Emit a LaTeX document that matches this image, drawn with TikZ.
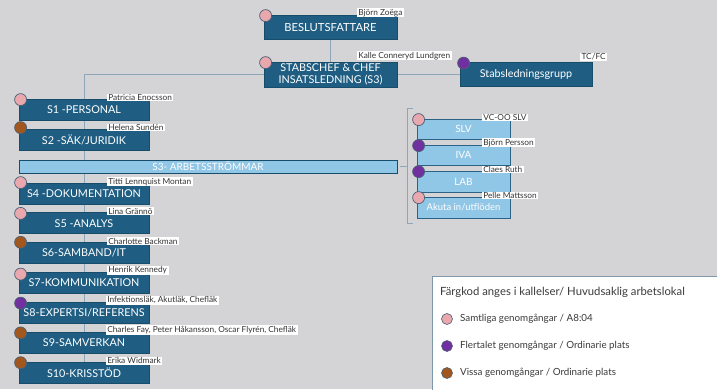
\documentclass[tikz,border=0pt]{standalone}
\usepackage{fontspec}
\setmainfont{Lato}
\usetikzlibrary{backgrounds}
\definecolor{bgc}{HTML}{D4D4D6}
\definecolor{darkbox}{HTML}{1F5E82}
\definecolor{darkedge}{HTML}{184C6B}
\definecolor{lightbox}{HTML}{90C6E6}
\definecolor{lightedge}{HTML}{2C6385}
\definecolor{linec}{HTML}{8DA6BA}
\definecolor{pinkc}{HTML}{E9A7AE}
\definecolor{purplec}{HTML}{7130A0}
\definecolor{brownc}{HTML}{A2571F}
\definecolor{dotedge}{HTML}{4B6176}
\definecolor{tagtext}{HTML}{333333}
\definecolor{legedge}{HTML}{7F97AB}
\definecolor{legtext}{HTML}{3A3A3A}
\begin{document}
\begin{tikzpicture}[x=1pt,y=-1pt,
  darkb/.style={draw=darkedge, line width=0.8pt, fill=darkbox, text=white, inner sep=0pt,
    font=\fontsize{10.8}{12}\selectfont, align=center},
  leftb/.style={darkb, minimum width=130pt, minimum height=21pt},
  lightb/.style={draw=lightedge, line width=0.8pt, fill=lightbox, text=white, inner sep=0pt,
    font=\fontsize{10}{12}\selectfont, minimum width=93pt},
  tag/.style={fill=white, text=tagtext, inner xsep=1.5pt, inner ysep=0.8pt,
    font=\fontsize{8.3}{9}\selectfont, anchor=south west},
  dot/.style={circle, draw=dotedge, line width=0.7pt, minimum size=12pt, inner sep=0pt},
  legdot/.style={circle, draw=dotedge, line width=0.6pt, minimum size=11pt, inner sep=0pt},
  legitem/.style={anchor=west, text=legtext, font=\fontsize{9.8}{11}\selectfont, inner sep=0pt},
  conn/.style={draw=linec, line width=0.8pt}]
\useasboundingbox (0,0) rectangle (717,389);
\begin{scope}[on background layer]
  \fill[bgc] (0,0) rectangle (717,389);
\end{scope}

% top boxes
\node[darkb, minimum width=133pt, minimum height=24pt, font=\fontsize{11.2}{12}\selectfont] (besl) at (330.5,27) {BESLUTSFATTARE};
\node[darkb, minimum width=133pt, minimum height=25pt] (stab) at (330.5,74.5) {STABSCHEF \& CHEF\\INSATSLEDNING (S3)};
\node[darkb, minimum width=132pt, minimum height=24pt] (grp) at (526,74.5) {Stabsledningsgrupp};

% left column
\node[leftb] (s1) at (84,109.5) {S1 -PERSONAL};
\node[leftb] (s2) at (84,139.5) {S2 -SÄK/JURIDIK};
\node[lightb, draw=darkedge, minimum width=378pt, minimum height=13pt, font=\fontsize{10}{12}\selectfont] (s3) at (208,166.5) {S3- ARBETSSTRÖMMAR};
\node[leftb] (s4) at (84,193.5) {S4 -DOKUMENTATION};
\node[leftb] (s5) at (84,223.3) {S5 -ANALYS};
\node[leftb] (s6) at (84,253.2) {S6-SAMBAND/IT};
\node[leftb] (s7) at (84,283) {S7-KOMMUNIKATION};
\node[leftb] (s8) at (84,313) {S8-EXPERTSI/REFERENS};
\node[leftb] (s9) at (84,342.8) {S9-SAMVERKAN};
\node[leftb] (s10) at (84,372.6) {S10-KRISSTÖD};

% right column
\node[lightb, minimum height=20pt] (slv) at (463.5,129) {SLV};
\node[lightb, minimum height=20pt] (iva) at (463.5,155) {IVA};
\node[lightb, minimum height=21pt] (lab) at (463.5,181.5) {LAB};
\node[lightb, minimum height=21pt, font=\fontsize{9.5}{11}\selectfont] (aku) at (463.5,207.5) {Akuta in/utflöden};

% bracket coordinates
\coordinate (brt) at (413,108);
\coordinate (brtc) at (407,108);
\coordinate (brm) at (407,166.5);
\coordinate (brbc) at (407,223);
\coordinate (brb) at (413,223);

% connectors
\begin{scope}[on background layer]
  \draw[conn] (besl) -- (stab);
  \draw[conn] (stab.east) -- (grp.west);
  \draw[conn] (stab.west) -| (s10);
\end{scope}
\draw[conn, shorten <=3pt] (s3.east) -- (brm);
\draw[conn] (brt) -- (brtc) -- (brbc) -- (brb);

% circles
\node[dot, fill=pinkc] (d-besl) at ([shift={(2,1)}]besl.north west) {};
\node[dot, fill=pinkc] (d-stab) at ([shift={(2,1)}]stab.north west) {};
\node[dot, fill=purplec] (d-grp) at ([shift={(4,1)}]grp.north west) {};
\node[dot, fill=pinkc] (d-s1) at ([shift={(2,1)}]s1.north west) {};
\node[dot, fill=brownc] (d-s2) at ([shift={(2,-1)}]s2.north west) {};
\node[dot, fill=pinkc] (d-s4) at ([shift={(2,0)}]s4.north west) {};
\node[dot, fill=pinkc] (d-s5) at ([shift={(2,1)}]s5.north west) {};
\node[dot, fill=brownc] (d-s6) at ([shift={(2,0)}]s6.north west) {};
\node[dot, fill=pinkc] (d-s7) at ([shift={(2,2)}]s7.north west) {};
\node[dot, fill=purplec] (d-s8) at ([shift={(2,1)}]s8.north west) {};
\node[dot, fill=brownc] (d-s9) at ([shift={(2,1)}]s9.north west) {};
\node[dot, fill=brownc] (d-s10) at ([shift={(2,1)}]s10.north west) {};
\node[dot, fill=pinkc] (d-slv) at ([shift={(2,1)}]slv.north west) {};
\node[dot, fill=purplec] (d-iva) at ([shift={(2,1)}]iva.north west) {};
\node[dot, fill=purplec] (d-lab) at ([shift={(2,1)}]lab.north west) {};
\node[dot, fill=pinkc] (d-aku) at ([shift={(2,1)}]aku.north west) {};

% name tags
\node[tag] (t-besl) at ([shift={(93,3)}]besl.north west) {Björn Zoëga};
\node[tag] (t-stab) at ([shift={(93,-1)}]stab.north west) {Kalle Conneryd Lundgren};
\node[tag, anchor=south east] (t-grp) at ([shift={(15,-1)}]grp.north east) {TC/FC};
\node[tag] (t-s1) at ([shift={(88,3)}]s1.north west) {Patricia Enocsson};
\node[tag] (t-s2) at ([shift={(88,3)}]s2.north west) {Helena Sundén};
\node[tag] (t-s4) at ([shift={(88,4)}]s4.north west) {Titti Lennquist Montan};
\node[tag] (t-s5) at ([shift={(88,3)}]s5.north west) {Lina Grännö};
\node[tag] (t-s6) at ([shift={(88,3)}]s6.north west) {Charlotte Backman};
\node[tag] (t-s7) at ([shift={(88,3)}]s7.north west) {Henrik Kennedy};
\node[tag] (t-s8) at ([shift={(87,3)}]s8.north west) {Infektionsläk, Akutläk, Chefläk};
\node[tag] (t-s9) at ([shift={(87,3)}]s9.north west) {Charles Fay, Peter Håkansson, Oscar Flyrén, Chefläk};
\node[tag] (t-s10) at ([shift={(87,3)}]s10.north west) {Erika Widmark};
\node[tag] (t-slv) at ([shift={(65,3)}]slv.north west) {VC-OO SLV};
\node[tag] (t-iva) at ([shift={(65,3)}]iva.north west) {Björn Persson};
\node[tag] (t-lab) at ([shift={(65,3)}]lab.north west) {Claes Ruth};
\node[tag] (t-aku) at ([shift={(65,3)}]aku.north west) {Pelle Mattsson};

% legend
\draw[draw=legedge, line width=1pt, fill=white] (432.5,276.5) rectangle (725,395);
\node[anchor=west, text=legtext, font=\fontsize{11.3}{13}\selectfont, inner sep=0pt] (legtitle) at (440,292) {Färgkod anges i kallelser/ Huvudsaklig arbetslokal};
\node[legdot, fill=pinkc] (l1) at (447,319) {};
\node[legdot, fill=purplec] (l2) at (447,346) {};
\node[legdot, fill=brownc] (l3) at (447,373) {};
\node[legitem] (lt1) at (460,319) {Samtliga genomgångar / A8:04};
\node[legitem] (lt2) at (460,346) {Flertalet genomgångar / Ordinarie plats};
\node[legitem] (lt3) at (460,373) {Vissa genomgångar / Ordinarie plats};
\end{tikzpicture}
\end{document}
